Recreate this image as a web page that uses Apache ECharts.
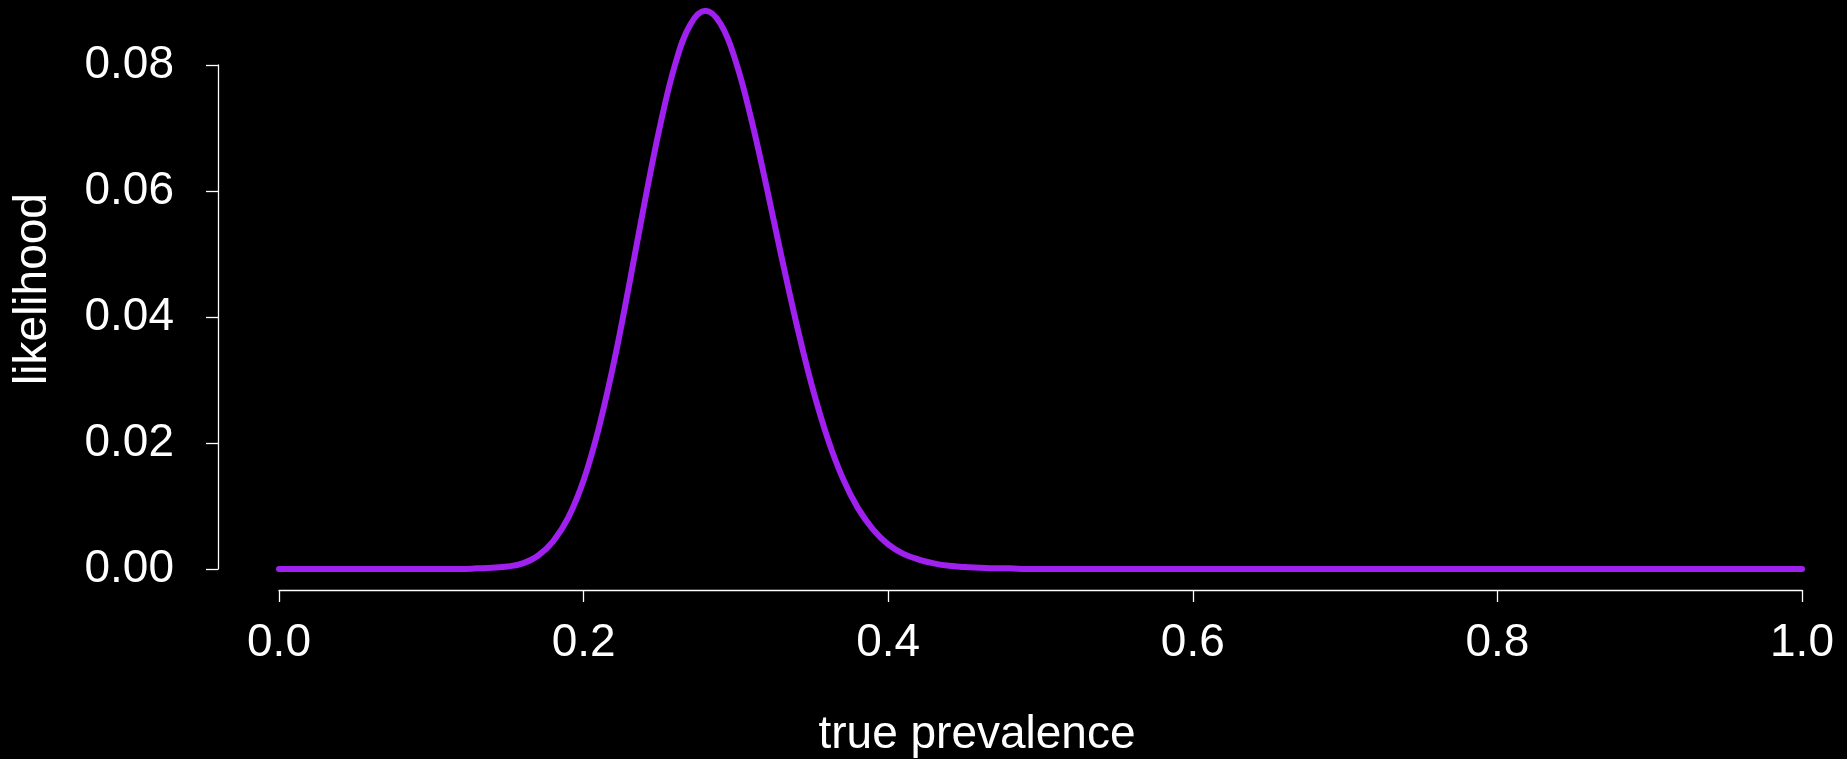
<!DOCTYPE html>
<html>
<head>
<meta charset="utf-8">
<script src="https://cdn.jsdelivr.net/npm/echarts@6/dist/echarts.min.js"></script>
<style>
  html, body { margin: 0; padding: 0; background: #000; }
  #chart { width: 1847px; height: 759px; }
</style>
</head>
<body>
<div id="chart"></div>
<script>
// grid of true prevalence values, step 0.01
var prevalence = [
  0.00, 0.01, 0.02, 0.03, 0.04, 0.05, 0.06, 0.07, 0.08, 0.09,
  0.10, 0.11, 0.12, 0.13, 0.14, 0.15, 0.16, 0.17, 0.18, 0.19,
  0.20, 0.21, 0.22, 0.23, 0.24, 0.25, 0.26, 0.27, 0.28, 0.29,
  0.30, 0.31, 0.32, 0.33, 0.34, 0.35, 0.36, 0.37, 0.38, 0.39,
  0.40, 0.41, 0.42, 0.43, 0.44, 0.45, 0.46, 0.47, 0.48, 0.49,
  0.50, 0.51, 0.52, 0.53, 0.54, 0.55, 0.56, 0.57, 0.58, 0.59,
  0.60, 0.61, 0.62, 0.63, 0.64, 0.65, 0.66, 0.67, 0.68, 0.69,
  0.70, 0.71, 0.72, 0.73, 0.74, 0.75, 0.76, 0.77, 0.78, 0.79,
  0.80, 0.81, 0.82, 0.83, 0.84, 0.85, 0.86, 0.87, 0.88, 0.89,
  0.90, 0.91, 0.92, 0.93, 0.94, 0.95, 0.96, 0.97, 0.98, 0.99,
  1.00
];

// likelihood
var likelihood = [
  0, 0, 0, 0, 0, 0, 0, 0, 0, 0,
  0, 0, 0, 0.0001, 0.0002, 0.0004, 0.0009, 0.0021, 0.0044, 0.0082,
  0.0141, 0.0224, 0.0329, 0.0452, 0.0581, 0.0701, 0.0800, 0.0864, 0.0886, 0.0865,
  0.0805, 0.0715, 0.0608, 0.0495, 0.0387, 0.0290, 0.0209, 0.0145, 0.0097, 0.0063,
  0.0039, 0.0024, 0.0015, 0.0009, 0.0005, 0.0003, 0.0002, 0.0001, 0.0001, 0,
  0, 0, 0, 0, 0, 0, 0, 0, 0, 0,
  0, 0, 0, 0, 0, 0, 0, 0, 0, 0,
  0, 0, 0, 0, 0, 0, 0, 0, 0, 0,
  0, 0, 0, 0, 0, 0, 0, 0, 0, 0,
  0, 0, 0, 0, 0, 0, 0, 0, 0, 0,
  0
];

var xTickLabels = ['0.0', '0.2', '0.4', '0.6', '0.8', '1.0'];
var yTickLabels = ['0.00', '0.02', '0.04', '0.06', '0.08'];

var font = '"Liberation Sans", Arial, Helvetica, sans-serif';
var chart = echarts.init(document.getElementById('chart'));

var points = prevalence.map(function (p, i) { return [p, likelihood[i]]; });

chart.setOption({
  backgroundColor: '#000',
  animation: false,
  grid: { left: 279, right: 45, top: 65, bottom: 190 },
  xAxis: {
    type: 'value', min: 0, max: 1, interval: 0.2, offset: 21,
    axisLine: { show: true, onZero: false, lineStyle: { color: '#fff', width: 1.3 } },
    axisTick: { show: true, length: 12, lineStyle: { color: '#fff', width: 1.3 } },
    splitLine: { show: false },
    axisLabel: {
      color: '#fff', fontSize: 46, fontFamily: font, margin: 30,
      formatter: function (v) { return xTickLabels[Math.round(v / 0.2)]; }
    }
  },
  yAxis: {
    type: 'value', min: 0, max: 0.08, interval: 0.02, offset: 61,
    axisLine: { show: true, onZero: false, lineStyle: { color: '#fff', width: 1.3 } },
    axisTick: { show: true, length: 12, lineStyle: { color: '#fff', width: 1.3 } },
    splitLine: { show: false },
    axisLabel: {
      color: '#fff', fontSize: 46, fontFamily: font, margin: 44,
      formatter: function (v) { return yTickLabels[Math.round(v / 0.02)]; }
    }
  },
  graphic: [
    { type: 'text', x: 977, y: 735,
      style: { text: 'true prevalence', fill: '#fff', font: '46px ' + font,
               align: 'center', verticalAlign: 'middle' } },
    { type: 'text', x: 33, y: 289, rotation: Math.PI / 2,
      style: { text: 'likelihood', fill: '#fff', font: '46px ' + font,
               align: 'center', verticalAlign: 'middle' } }
  ],
  series: [{
    type: 'line',
    data: points,
    showSymbol: false,
    smooth: 0.4,
    clip: false,
    lineStyle: { color: '#a020f0', width: 6, cap: 'round', join: 'round' }
  }]
});
</script>
</body>
</html>
